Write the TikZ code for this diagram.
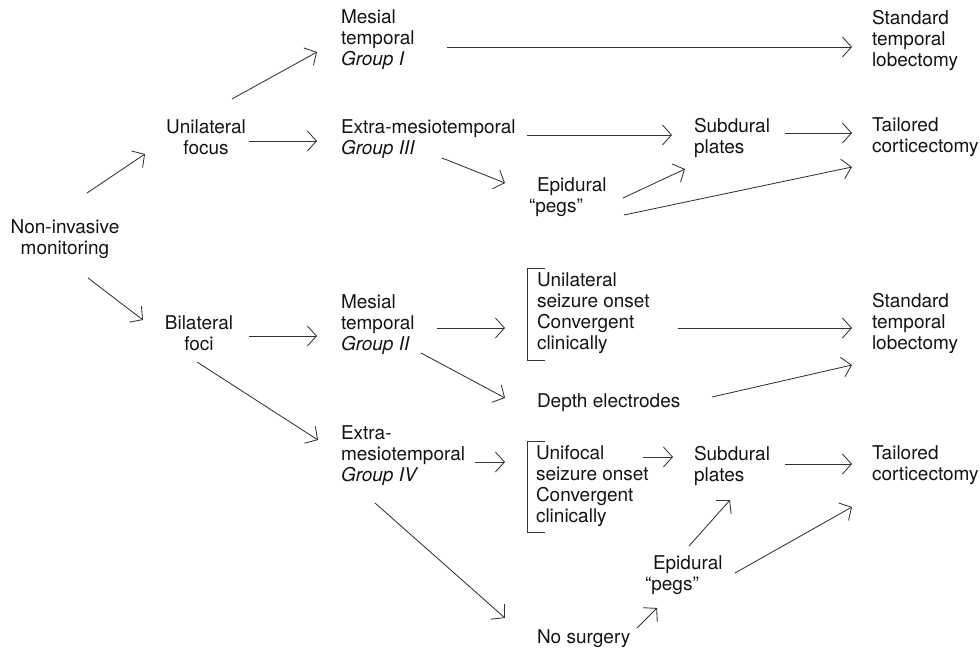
\documentclass[tikz,border=0pt]{standalone}
\usepackage{fontspec}
\setmainfont{TeX Gyre Heros}
\usetikzlibrary{arrows.meta,calc}
\newcommand{\vstr}{\rule[-5pt]{0pt}{20pt}}
\tikzset{
  lbl/.style={inner sep=0pt, outer sep=0pt, align=left, anchor=north west,
    font=\fontsize{19}{21}\selectfont, text=black!92,
    execute at begin node=\vstr, execute at end node=\vstr},
  clbl/.style={lbl, align=center, anchor=north},
  arr/.style={draw=black!80, line width=0.85pt,
    -{Straight Barb[length=9pt,width=20pt,line width=0.85pt]}},
  brk/.style={draw=black!80, line width=0.85pt},
}
\begin{document}
\begin{tikzpicture}[x=1pt,y=-1pt]
\useasboundingbox (0,0) rectangle (980,649);
% nodes
\node[clbl] (ni)  at (65,220)  {Non-invasive\\monitoring};
\node[clbl] (uni) at (206,120) {Unilateral\\focus};
\node[clbl] (bil) at (199,316) {Bilateral\\foci};
\node[lbl] (m1) at (341,10)  {Mesial\\temporal\\\textit{Group I}};
\node[lbl] (e3) at (341,120) {Extra-mesiotemporal\\\textit{Group III}};
\node[lbl] (m2) at (341,295) {Mesial\\temporal\\\textit{Group II}};
\node[lbl] (e4) at (341,426) {Extra-\\mesiotemporal\\\textit{Group IV}};
\node[lbl] (std1) at (872,10)  {Standard\\temporal\\lobectomy};
\node[lbl] (sub1) at (694,118) {Subdural\\plates};
\node[lbl] (tail1) at (872,118) {Tailored\\corticectomy};
\node[lbl] (epi1) at (529,178) {\hspace*{8pt}Epidural\\“pegs”};
\node[lbl] (usz) at (537,273) {Unilateral\\seizure onset\\Convergent\\clinically};
\node[lbl] (std2) at (872,293) {Standard\\temporal\\lobectomy};
\node[lbl] (dep) at (537,392) {Depth electrodes};
\node[lbl] (ufo) at (536,446) {Unifocal\\seizure onset\\Convergent\\clinically};
\node[lbl] (sub2) at (694,446) {Subdural\\plates};
\node[lbl] (tail2) at (872,446) {Tailored\\corticectomy};
\node[lbl] (epi2) at (645,556) {\hspace*{8pt}Epidural\\“pegs”};
\node[lbl] (nos) at (537,628) {No surgery};
% brackets
\draw[brk] ($(usz.north west)+(8,-5)$) -- ($(usz.north west)+(-10,-5)$)
  -- ($(usz.north west)+(-10,87)$) -- ($(usz.north west)+(8,87)$);
\draw[brk] ($(ufo.north west)+(9,-5)$) -- ($(ufo.north west)+(-9,-5)$)
  -- ($(ufo.north west)+(-9,86)$) -- ($(ufo.north west)+(9,86)$);
% connectors
\draw[arr] ($(ni.north)+(22,-27)$) -- ($(uni.north)+(-61,34)$);
\draw[arr] ($(ni.north)+(23,58)$) -- ($(bil.north)+(-56,4)$);
\draw[arr] ($(uni.north)+(26,-21)$) -- ($(m1.north west)+(-24,42)$);
\draw[arr] ($(uni.north)+(43,21)$) -- ($(e3.north west)+(-24,21)$);
\draw[arr] ($(bil.north)+(50,20)$) -- ($(m2.north west)+(-24,41)$);
\draw[arr] ($(bil.north)+(-2,46)$) -- ($(e4.north west)+(-23,14)$);
\draw[arr] ($(m1.north west)+(106,37)$) -- ($(std1.north west)+(-20,37)$);
\draw[arr] ($(e3.north west)+(186,15)$) -- ($(sub1.north west)+(-22,17)$);
\draw[arr] ($(e3.north west)+(101,38)$) -- ($(epi1.north west)+(-24,5)$);
\draw[arr] ($(sub1.north west)+(91,15)$) -- ($(tail1.north west)+(-20,15)$);
\draw[arr] ($(epi1.north west)+(94,20)$) -- ($(sub1.north west)+(-9,51)$);
\draw[arr] ($(epi1.north west)+(95,37)$) -- ($(tail1.north west)+(-20,49)$);
\draw[arr] ($(m2.north west)+(96,33)$) -- ($(usz.north west)+(-32,55)$);
\draw[arr] ($(m2.north west)+(80,58)$) -- ($(dep.north west)+(-32,6)$);
\draw[arr] ($(usz.north west)+(141,55)$) -- ($(std2.north west)+(-20,35)$);
\draw[arr] ($(dep.north west)+(175,5)$) -- ($(std2.north west)+(-20,72)$);
\draw[arr] ($(e4.north west)+(134,36)$) -- ($(ufo.north west)+(-31,16)$);
\draw[arr] ($(e4.north west)+(34,77)$) -- ($(nos.north west)+(-32,-10)$);
\draw[arr] ($(ufo.north west)+(107,11)$) -- ($(sub2.north west)+(-21,11)$);
\draw[arr] ($(sub2.north west)+(91,18)$) -- ($(tail2.north west)+(-20,18)$);
\draw[arr] ($(epi2.north west)+(44,-10)$) -- ($(sub2.north west)+(36,54)$);
\draw[arr] ($(epi2.north west)+(90,17)$) -- ($(tail2.north west)+(-20,61)$);
\draw[arr] ($(nos.north west)+(100,0)$) -- ($(epi2.north west)+(12,52)$);
\end{tikzpicture}
\end{document}
